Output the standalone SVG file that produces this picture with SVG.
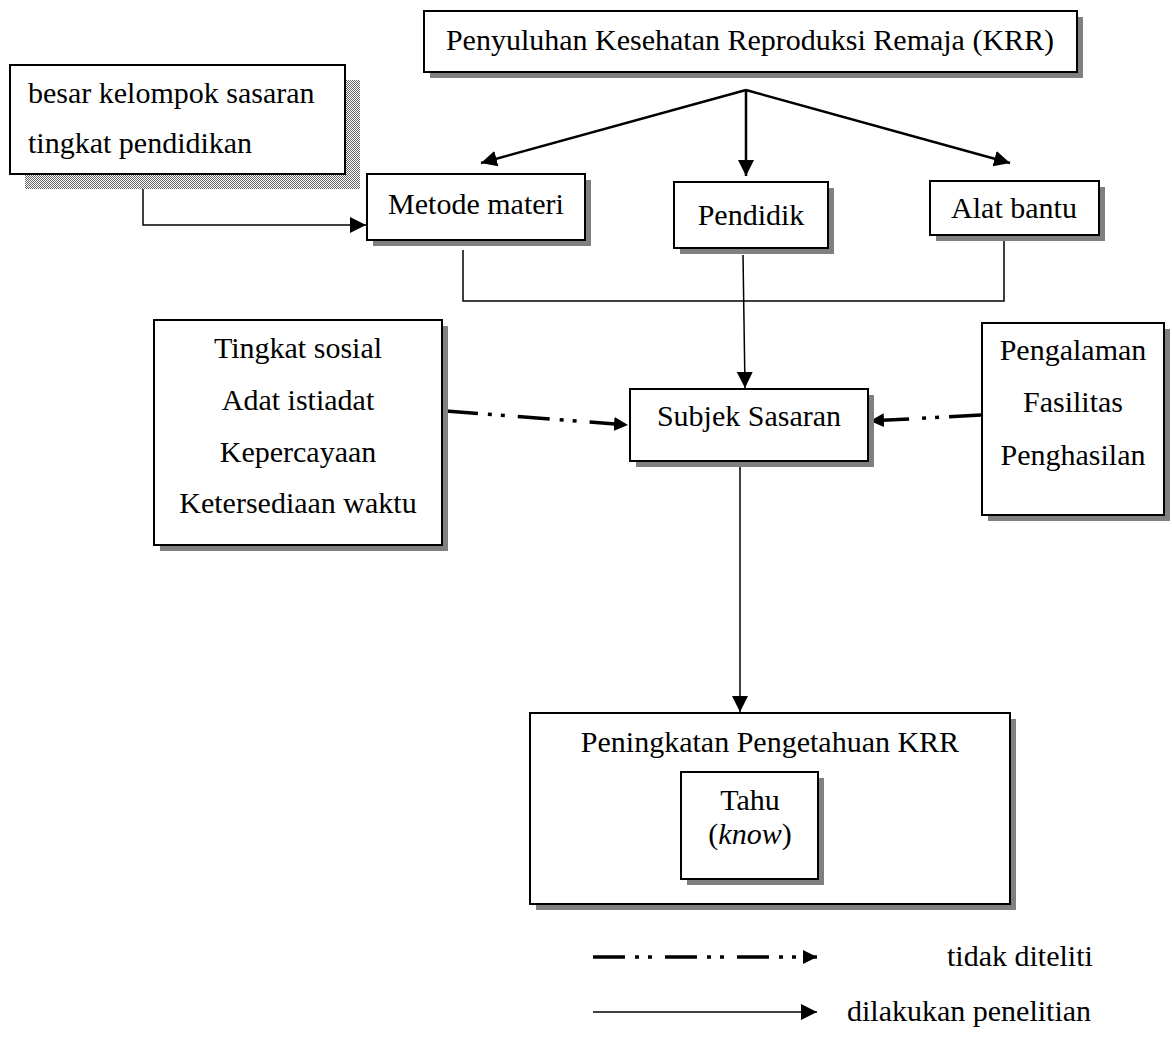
<svg xmlns="http://www.w3.org/2000/svg" width="1172" height="1042" viewBox="0 0 1172 1042">
<style>
.box{fill:#fff;stroke:#000;stroke-width:2}
.sh{fill:#808080}
.t{font-family:"Liberation Serif","Times New Roman",serif;font-size:30px;fill:#000}
.c{text-anchor:middle}
.ln{fill:none;stroke:#000;stroke-width:1.5}
.lnb{fill:none;stroke:#000;stroke-width:2.5}
.dd{fill:none;stroke:#000;stroke-width:3.5;stroke-dasharray:32 10 4 9 4 13}
</style>
<defs>
<marker id="ar" viewBox="0 0 10 10" refX="10" refY="5" markerWidth="16" markerHeight="16" markerUnits="userSpaceOnUse" orient="auto">
<path d="M0,0 L10,5 L0,10 z" fill="#000"/>
</marker>
<marker id="ar2" viewBox="0 0 10 10" refX="10" refY="5" markerWidth="14" markerHeight="14" markerUnits="userSpaceOnUse" orient="auto">
<path d="M0,0 L10,5 L0,10 z" fill="#000"/>
</marker>
<pattern id="dith" width="2" height="2" patternUnits="userSpaceOnUse">
<rect width="2" height="2" fill="#fff"/>
<rect width="1" height="1" fill="#666"/>
<rect x="1" y="1" width="1" height="1" fill="#666"/>
</pattern>
</defs>
<rect width="1172" height="1042" fill="#fff"/>

<g id="connectors">
<path class="lnb" d="M746,90 L481,163" marker-end="url(#ar)"/>
<path class="lnb" d="M746,90 L746,176" marker-end="url(#ar)"/>
<path class="lnb" d="M746,90 L1010,163" marker-end="url(#ar)"/>
<path class="ln" d="M143,174 L143,225 L366,225" marker-end="url(#ar)"/>
<path class="ln" d="M463,250 L463,301 L1004,301 L1004,237"/>
<path class="ln" d="M743,255 L745,388" marker-end="url(#ar)"/>
<path class="dd" d="M446,411 L628,425" marker-end="url(#ar2)"/>
<path class="dd" d="M981,415 L870,421" marker-end="url(#ar2)"/>
<path class="ln" d="M740,462 L740,712" marker-end="url(#ar)"/>
<path class="dd" d="M593,957 L817,957" marker-end="url(#ar2)"/>
<path class="ln" d="M593,1012 L817,1012" marker-end="url(#ar)"/>
</g>

<g id="node-krr">
<rect class="sh" x="430" y="17" width="653" height="61"/>
<rect class="box" x="424" y="11" width="653" height="61"/>
<text class="t c" x="750" y="50">Penyuluhan Kesehatan Reproduksi Remaja (KRR)</text>
</g>

<g id="node-besar">
<rect x="25" y="80" width="335" height="109" fill="url(#dith)"/>
<rect class="box" x="10" y="65" width="335" height="109"/>
<text class="t" x="28" y="103">besar kelompok sasaran</text>
<text class="t" x="28" y="153">tingkat pendidikan</text>
</g>

<g id="node-metode">
<rect class="sh" x="373" y="180" width="218" height="66"/>
<rect class="box" x="367" y="174" width="218" height="66"/>
<text class="t c" x="476" y="214">Metode materi</text>
</g>

<g id="node-pendidik">
<rect class="sh" x="680" y="188" width="154" height="66"/>
<rect class="box" x="674" y="182" width="154" height="66"/>
<text class="t c" x="751" y="225">Pendidik</text>
</g>

<g id="node-alat">
<rect class="sh" x="936" y="187" width="169" height="54"/>
<rect class="box" x="930" y="181" width="169" height="54"/>
<text class="t c" x="1014" y="218">Alat bantu</text>
</g>

<g id="node-tingkat">
<rect class="sh" x="160" y="326" width="288" height="225"/>
<rect class="box" x="154" y="320" width="288" height="225"/>
<text class="t c" x="298" y="358">Tingkat sosial</text>
<text class="t c" x="298" y="410">Adat istiadat</text>
<text class="t c" x="298" y="462">Kepercayaan</text>
<text class="t c" x="298" y="513">Ketersediaan waktu</text>
</g>

<g id="node-subjek">
<rect class="sh" x="636" y="395" width="238" height="72"/>
<rect class="box" x="630" y="389" width="238" height="72"/>
<text class="t c" x="749" y="426">Subjek Sasaran</text>
</g>

<g id="node-pengalaman">
<rect class="sh" x="988" y="329" width="182" height="192"/>
<rect class="box" x="982" y="323" width="182" height="192"/>
<text class="t c" x="1073" y="360">Pengalaman</text>
<text class="t c" x="1073" y="412">Fasilitas</text>
<text class="t c" x="1073" y="465">Penghasilan</text>
</g>

<g id="node-peningkatan">
<rect class="sh" x="536" y="719" width="480" height="191"/>
<rect class="box" x="530" y="713" width="480" height="191"/>
<text class="t c" x="770" y="752">Peningkatan Pengetahuan KRR</text>
<g id="node-tahu">
<rect class="sh" x="687" y="778" width="137" height="107"/>
<rect class="box" x="681" y="772" width="137" height="107"/>
<text class="t c" x="750" y="810">Tahu</text>
<text class="t c" x="750" y="844">(<tspan font-style="italic">know</tspan>)</text>
</g>
</g>

<g id="legend">
<text class="t" x="947" y="966">tidak diteliti</text>
<text class="t" x="847" y="1021">dilakukan penelitian</text>
</g>
</svg>
